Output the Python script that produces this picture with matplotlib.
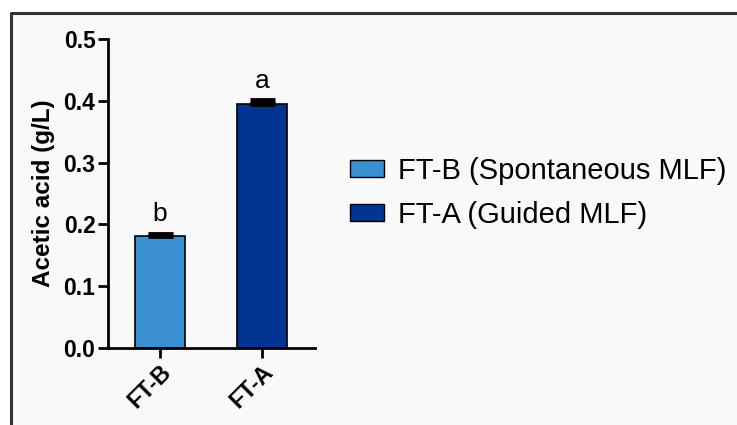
import matplotlib.pyplot as plt
from matplotlib.patches import Patch
from matplotlib.lines import Line2D

plt.rcParams["font.family"] = ["Liberation Sans", "DejaVu Sans"]

groups = ["FT-B", "FT-A"]
legend_labels = ["FT-B (Spontaneous MLF)", "FT-A (Guided MLF)"]
means = [0.181, 0.395]
errors = [0.004, 0.006]
letters = ["b", "a"]
colors = ["#3a8fd0", "#02358f"]

fig = plt.figure(figsize=(7.37, 4.25), dpi=100)
fig.patch.set_facecolor("white")

# panel background with a frame on top and left
W, H = 737, 425
fig.patches.append(plt.Rectangle((11 / W, 0), 1, 1 - 13 / H, transform=fig.transFigure,
                                 facecolor="#f9f9f9", edgecolor="none", zorder=-2))
fig.add_artist(Line2D([11 / W, 11 / W, 1], [0, 1 - 13 / H, 1 - 13 / H],
                      transform=fig.transFigure, color="#333333", lw=2.2))

ax = fig.add_axes([108 / W, 1 - 348 / H, (315 - 108) / W, (348 - 39) / H])
ax.set_facecolor("none")

x = range(len(groups))
ax.bar(x, means, width=0.49, color=colors, edgecolor="black", linewidth=1.2, zorder=2)
ax.errorbar(x, means, yerr=[[0, 0], errors], fmt="none", ecolor="black",
            elinewidth=2, capsize=9, capthick=3.5, zorder=3)

for xi, m, e, t in zip(x, means, errors, letters):
    ax.text(xi, m + e + 0.012, t, ha="center", va="bottom", fontsize=19)

ax.set_xlim(-0.51, 1.52)
ax.set_ylim(0, 0.5)
ax.set_yticks([0.0, 0.1, 0.2, 0.3, 0.4, 0.5])
ax.set_yticklabels(["0.0", "0.1", "0.2", "0.3", "0.4", "0.5"], fontsize=16.5, fontweight="bold")
ax.set_xticks(list(x))
ax.set_xticklabels(groups, rotation=45, ha="right", rotation_mode="anchor",
                   fontsize=16.5, fontweight="bold")
ax.set_ylabel("Acetic acid (g/L)", fontsize=17.5, fontweight="bold", labelpad=6)

for s in ["top", "right"]:
    ax.spines[s].set_visible(False)
for s in ["left", "bottom"]:
    ax.spines[s].set_linewidth(2)
ax.tick_params(width=2, length=7, direction="out", pad=2)

handles = [Patch(facecolor=c, edgecolor="black", linewidth=1) for c in colors]
fig.legend(handles, legend_labels, loc="center left", bbox_to_anchor=(350 / W, 1 - 193 / H),
           frameon=False, fontsize=21, handlelength=1.15, handleheight=0.52,
           handletextpad=0.5, labelspacing=0.55, borderpad=0, borderaxespad=0)

fig.savefig("out.png", dpi=100, facecolor=fig.get_facecolor())
